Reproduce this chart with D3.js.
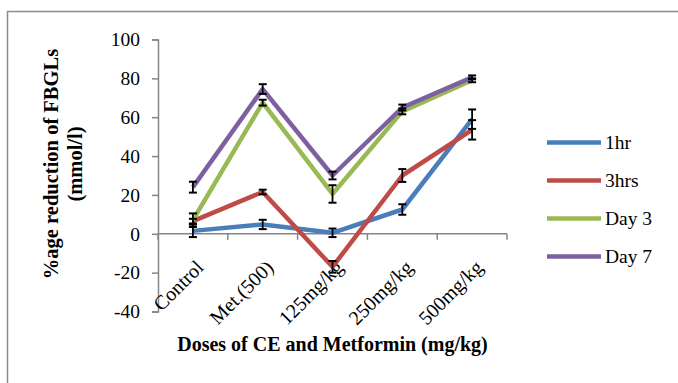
<!DOCTYPE html>
<html>
<head>
<meta charset="utf-8">
<script src="https://cdn.jsdelivr.net/npm/d3@7"></script>
<style>
  html, body { margin: 0; padding: 0; background: #fff; }
  svg { display: block; font-family: "Liberation Serif", "Times New Roman", serif; }
  svg text { font-family: "Liberation Serif", "Times New Roman", serif; }
</style>
</head>
<body>
<svg id="chart" width="678" height="383"></svg>
<script>
// Dose groups on the x axis
const categories = ["Control", "Met.(500)", "125mg/kg", "250mg/kg", "500mg/kg"];

// Mean % reduction of FBGLs per time point, with error (±) values
const series1hr   = [1.5, 4.8, 0.5, 12.5, 59];
const err1hr      = [3.2, 2.4, 2.2, 2.7, 5];
const series3hrs  = [6.5, 21.5, -17, 30, 53.5];
const err3hrs     = [1.2, 1.2, 3, 3.3, 5];
const seriesDay3  = [7, 67.5, 20.5, 63, 79];
const errDay3     = [3.5, 1.5, 4.5, 1.5, 1];
const seriesDay7  = [24, 74.5, 30, 65, 80.5];
const errDay7     = [2.8, 2.5, 2, 1.5, 1];

const seriesNames = ["1hr", "3hrs", "Day 3", "Day 7"];
const yTicks = [100, 80, 60, 40, 20, 0, -20, -40];

const colors = ["#4a7ebb", "#be4b48", "#98b954", "#7d60a0"];
const seriesData = [series1hr, series3hrs, seriesDay3, seriesDay7];
const errData = [err1hr, err3hrs, errDay3, errDay7];

const FONT = "Liberation Serif";
const svg = d3.select("#chart");

// outer chart frame
svg.append("rect")
  .attr("x", 7.5).attr("y", 11.5)
  .attr("width", 700).attr("height", 400)
  .attr("fill", "none")
  .attr("stroke", "#8c8c8c")
  .attr("stroke-width", 1.5);

const plotLeft = 158, plotRight = 507;
const x = d3.scaleBand().domain(categories).range([plotLeft, plotRight]);
const y = d3.scaleLinear().domain([-40, 100]).range([311.5, 39.5]);
const xc = c => x(c) + x.bandwidth() / 2;

const axisColor = "#868686";

// y axis
const yAxis = svg.append("g")
  .attr("transform", `translate(${plotLeft},0)`)
  .call(d3.axisLeft(y).tickValues(yTicks).tickSize(6).tickPadding(12).tickFormat(d => String(d)));
yAxis.attr("font-family", FONT);
yAxis.select(".domain").attr("stroke", axisColor).attr("stroke-width", 1.5);
yAxis.selectAll(".tick line").attr("stroke", axisColor).attr("stroke-width", 1.5);
yAxis.selectAll(".tick text")
  .attr("font-family", FONT)
  .attr("font-size", "19.5px")
  .attr("fill", "#000");

// x axis crossing at zero, ticks between categories
const xAxisG = svg.append("g").attr("transform", `translate(0,${y(0)})`);
xAxisG.append("line")
  .attr("x1", plotLeft).attr("x2", plotRight)
  .attr("stroke", axisColor).attr("stroke-width", 1.5);
const boundaries = categories.map(c => x(c)).concat([plotRight]);
xAxisG.selectAll("line.tk").data(boundaries).enter().append("line")
  .attr("class", "tk")
  .attr("x1", d => d).attr("x2", d => d)
  .attr("y1", 0).attr("y2", 6)
  .attr("stroke", axisColor).attr("stroke-width", 1.5);

// category labels rotated 45°
svg.selectAll("text.cat").data(categories).enter().append("text")
  .attr("class", "cat")
  .attr("transform", d => `translate(${xc(d) + 2},${y(0) + 25}) rotate(-45)`)
  .attr("text-anchor", "end")
  .attr("dy", "0.7em")
  .attr("font-family", FONT)
  .attr("font-size", "20px")
  .attr("fill", "#000")
  .text(d => d);

// series lines
const line = d3.line()
  .x((d, i) => xc(categories[i]))
  .y(d => y(d));

seriesData.forEach((vals, s) => {
  svg.append("path")
    .datum(vals)
    .attr("d", line)
    .attr("fill", "none")
    .attr("stroke", colors[s])
    .attr("stroke-width", 4.5)
    .attr("stroke-linejoin", "round");
});

// error bars
seriesData.forEach((vals, s) => {
  const g = svg.append("g");
  vals.forEach((v, i) => {
    const cx = xc(categories[i]);
    const e = errData[s][i];
    const y1 = y(v + e), y2 = y(v - e);
    g.append("line").attr("x1", cx).attr("x2", cx).attr("y1", y1).attr("y2", y2)
      .attr("stroke", "#000").attr("stroke-width", 1.8);
    [y1, y2].forEach(yy => {
      g.append("line").attr("x1", cx - 4).attr("x2", cx + 4).attr("y1", yy).attr("y2", yy)
        .attr("stroke", "#000").attr("stroke-width", 2);
    });
  });
});

// axis titles
svg.append("text")
  .attr("x", (plotLeft + plotRight) / 2)
  .attr("y", 351)
  .attr("text-anchor", "middle")
  .attr("font-family", FONT)
  .attr("font-weight", "bold")
  .attr("font-size", "20px")
  .attr("fill", "#000")
  .text("Doses of CE and Metformin (mg/kg)");

const yTitle = svg.append("text")
  .attr("transform", "translate(0,164) rotate(-90)")
  .attr("text-anchor", "middle")
  .attr("font-family", FONT)
  .attr("font-weight", "bold")
  .attr("font-size", "20.5px")
  .attr("fill", "#000");
yTitle.append("tspan").attr("x", 0).attr("y", 58).text("%age reduction of FBGLs");
yTitle.append("tspan").attr("x", 0).attr("y", 82).text("(mmol/l)");

// legend
const legend = svg.append("g");
seriesNames.forEach((name, i) => {
  const ly = 142.5 + i * 38;
  legend.append("line")
    .attr("x1", 547).attr("x2", 601).attr("y1", ly).attr("y2", ly)
    .attr("stroke", colors[i]).attr("stroke-width", 4.5);
  legend.append("text")
    .attr("x", 605).attr("y", ly)
    .attr("dy", "0.35em")
    .attr("font-family", FONT)
    .attr("font-size", "19.5px")
    .attr("fill", "#000")
    .text(name);
});
</script>
</body>
</html>
